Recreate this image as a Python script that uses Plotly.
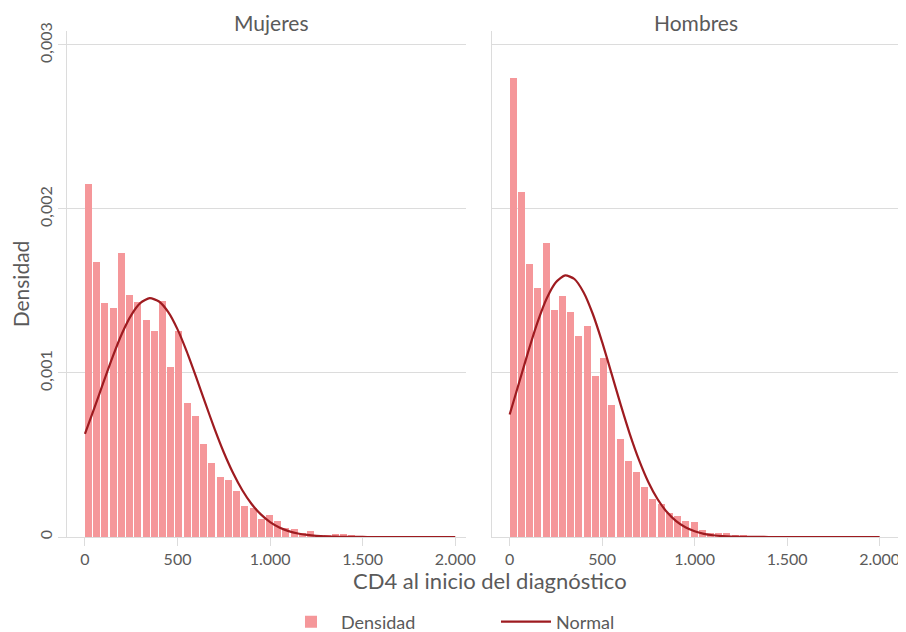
import plotly.graph_objects as go

# ---- data ----
panels = ["Mujeres", "Hombres"]
n_bins = 45
x_max = 2000
bin_width = x_max / n_bins
bin_starts = [i * bin_width for i in range(n_bins)]

dens_mujeres = [0.002151, 0.001678, 0.001424, 0.001399, 0.001729, 0.001473, 0.001430, 0.001324,
                0.001259, 0.001436, 0.001039, 0.001255, 0.000819, 0.000740, 0.000564, 0.000453,
                0.000367, 0.000349, 0.000282, 0.000192, 0.000177, 0.000110, 0.000137, 0.000096,
                0.000056, 0.000049, 0.000025, 0.000037, 0.000013, 0.000009, 0.000019, 0.000017,
                0.000007, 0.000005, 0.000002, 0.000001, 0.000003, 0.000001, 0.000002, 0.000003,
                0.000001, 0.000001, 0.000001, 0.000001, 0.000001]

dens_hombres = [0.002799, 0.002104, 0.001665, 0.001516, 0.001795, 0.001386, 0.001471, 0.001370,
                0.001226, 0.001287, 0.000979, 0.001093, 0.000807, 0.000598, 0.000465, 0.000396,
                0.000302, 0.000232, 0.000201, 0.000146, 0.000131, 0.000099, 0.000091, 0.000043,
                0.000024, 0.000024, 0.000026, 0.000014, 0.000011, 0.000006, 0.000004, 0.000004,
                0.000006, 0.000004, 0.000002, 0.000002, 0.000002, 0.000001, 0.000001, 0.000002,
                0.000001, 0.000001, 0.000001, 0.000001, 0.000001]

normal_x = list(range(0, 2001, 50))
normal_mujeres = [0.000629, 0.000784, 0.000944, 0.001100, 0.001241, 0.001353, 0.001427, 0.001456,
                  0.001436, 0.001371, 0.001266, 0.001130, 0.000976, 0.000816, 0.000659, 0.000515,
                  0.000390, 0.000285, 0.000201, 0.000138, 0.0000912, 0.0000584, 0.0000361,
                  0.0000216, 0.0000125, 0.0000070, 0.0000038, 0.0000020, 0.0000010, 0.0000005,
                  0.0000002, 0.0000001, 0, 0, 0, 0, 0, 0, 0, 0, 0]
normal_hombres = [0.000747, 0.000937, 0.001129, 0.001307, 0.001454, 0.001553, 0.001595, 0.001573,
                  0.001491, 0.001358, 0.001188, 0.000999, 0.000807, 0.000626, 0.000467, 0.000334,
                  0.000230, 0.000152, 0.0000967, 0.0000590, 0.0000346, 0.0000195, 0.0000106,
                  0.0000055, 0.0000027, 0.0000013, 0.0000006, 0.0000003, 0.0000001,
                  0, 0, 0, 0, 0, 0, 0, 0, 0, 0, 0, 0]

x_ticks = [0, 500, 1000, 1500, 2000]
y_ticks = [0, 0.001, 0.002, 0.003]
y_tick_text = ["0", "0,001", "0,002", "0,003"]

# ---- styles ----
BAR_COLOR = "#F5979A"
LINE_COLOR = "#9E1B20"
GRID = "#DCDCDC"
TXT = "#5A5A5A"
FONT = "Lato"

fig = go.Figure()
series = [(dens_mujeres, normal_mujeres, "x", "y"), (dens_hombres, normal_hombres, "x2", "y2")]
for i, (dens, norm, xa, ya) in enumerate(series):
    fig.add_trace(go.Bar(x=bin_starts, y=dens, width=bin_width * 0.85, offset=0,
                         marker=dict(color=BAR_COLOR, line=dict(width=0)),
                         name="Densidad", showlegend=(i == 0), legendrank=1,
                         xaxis=xa, yaxis=ya))
    fig.add_trace(go.Scatter(x=normal_x, y=norm, mode="lines",
                             line=dict(color=LINE_COLOR, width=2.2, shape="spline", smoothing=0.6),
                             name="Normal", showlegend=(i == 0), legendrank=2,
                             xaxis=xa, yaxis=ya))

axis_common = dict(zeroline=False, showline=True, linecolor=GRID, linewidth=1,
                   ticklen=8, tickcolor=GRID, tickwidth=1, automargin=False,
                   tickfont=dict(family=FONT, size=16, color=TXT))

# the page body has an 8px margin (top/left), so the figure is drawn 8px in from the corner
fig.update_layout(
    width=898, height=624,
    margin=dict(l=59, r=6, t=23, b=95),
    paper_bgcolor="white", plot_bgcolor="white",
    separators=",.",
    font=dict(family=FONT, color=TXT),
    bargap=0,
    xaxis=dict(domain=[0, 0.479], range=[-97, 2058], tickvals=x_ticks, showgrid=False,
               ticks="outside", separatethousands=True, anchor="y", **axis_common),
    xaxis2=dict(domain=[0.5102, 1], range=[-95.5, 2110], tickvals=x_ticks, showgrid=False,
                ticks="outside", separatethousands=True, anchor="y2", **axis_common),
    yaxis=dict(range=[0, 0.003085], tickvals=y_ticks, ticktext=y_tick_text, tickangle=-90,
               showgrid=True, gridcolor=GRID, gridwidth=1, anchor="x", ticks="outside",
               title=dict(text="Densidad", font=dict(family=FONT, size=21, color=TXT), standoff=10),
               **axis_common),
    yaxis2=dict(range=[0, 0.003085], tickvals=y_ticks, showticklabels=False, matches="y",
                showgrid=True, gridcolor=GRID, gridwidth=1, anchor="x2", ticks="",
                **axis_common),
    legend=dict(orientation="h", x=0.515, xanchor="center", yref="container", y=0.016,
                yanchor="middle", font=dict(family=FONT, size=18, color=TXT),
                itemwidth=50, entrywidth=150, traceorder="normal"),
    annotations=[
        dict(text=panels[0], x=0.246, y=1, xref="paper", yref="paper", xanchor="center",
             yanchor="middle", yshift=9, showarrow=False,
             font=dict(family=FONT, size=21, color=TXT)),
        dict(text=panels[1], x=0.755, y=1, xref="paper", yref="paper", xanchor="center",
             yanchor="middle", yshift=9, showarrow=False,
             font=dict(family=FONT, size=21, color=TXT)),
        dict(text="CD4 al inicio del diagnóstico", x=0.508, y=-0.085, xref="paper", yref="paper",
             xanchor="center", yanchor="middle", showarrow=False,
             font=dict(family=FONT, size=22, color=TXT)),
    ],
)

fig.write_html("out.html")
